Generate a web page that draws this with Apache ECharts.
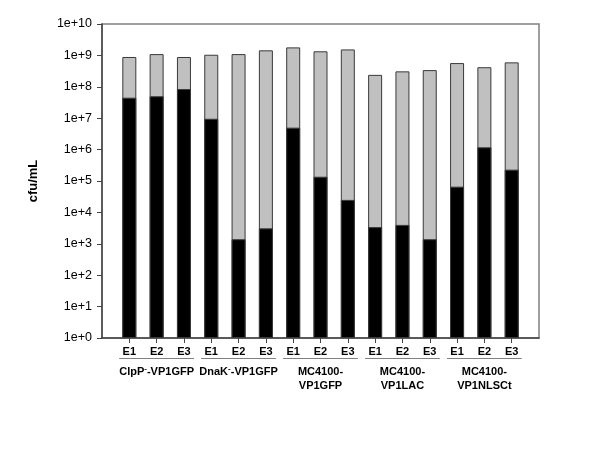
<!DOCTYPE html>
<html>
<head>
<meta charset="utf-8">
<script src="https://cdn.jsdelivr.net/npm/echarts@6/dist/echarts.min.js"></script>
<style>html,body{margin:0;padding:0;background:#fff}#c{width:600px;height:450px}</style>
</head>
<body>
<div id="c"></div>
<script>
// ---- data ----
const groups = ['{a|ClpP}{s|-}{a|-VP1GFP}', '{a|DnaK}{s|-}{a|-VP1GFP}', 'MC4100-\nVP1GFP', 'MC4100-\nVP1LAC', 'MC4100-\nVP1NLSCt'];
const experiments = ['E1', 'E2', 'E3'];
const totalCfu = [8.9e8, 1.1e9, 8.9e8, 1.05e9, 1.1e9, 1.45e9, 1.8e9, 1.35e9, 1.55e9, 2.4e8, 3.1e8, 3.4e8, 5.7e8, 4.2e8, 6.0e8];
const blackCfu = [4.5e7, 5.0e7, 8.5e7, 9.6e6, 1.4e3, 3.1e3, 5.0e6, 1.37e5, 2.5e4, 3.4e3, 4.0e3, 1.4e3, 6.6e4, 1.18e6, 2.3e5];
const yTickExponents = [0, 1, 2, 3, 4, 5, 6, 7, 8, 9, 10];

// ---- derived ----
const barLabels = [];
const groupLabels = [];
groups.forEach(function (g) {
  experiments.forEach(function (e, j) {
    barLabels.push(e);
    groupLabels.push(j === 1 ? g : '');
  });
});
const cats = [''].concat(barLabels, ['']);
const groupCats = [''].concat(groupLabels, ['']);
const pad = function (arr) { return [null].concat(arr, [null]); };
const groupSpans = groups.map(function (g, i) { return [1 + 3 * i, 3 + 3 * i]; });

const chart = echarts.init(document.getElementById('c'), null, { renderer: 'canvas' });
const font = 'Liberation Sans, Arial, Helvetica, sans-serif';
chart.setOption({
  animation: false,
  backgroundColor: '#ffffff',
  grid: { left: 102, right: 61, top: 24, bottom: 112, show: true, borderColor: '#808080', borderWidth: 1.5, containLabel: false },
  xAxis: [{
    type: 'category',
    data: cats,
    boundaryGap: false,
    axisLine: { lineStyle: { color: '#444', width: 1.5 } },
    axisTick: { length: 5, lineStyle: { color: '#444' }, interval: function (i) { return i > 0 && i < cats.length - 1; } },
    axisLabel: { interval: 0, margin: 8, fontFamily: font, fontSize: 11, fontWeight: 'bold', color: '#000' },
    splitLine: { show: false }
  }, {
    type: 'category',
    data: groupCats,
    position: 'bottom',
    boundaryGap: false,
    axisLine: { show: false },
    axisTick: { show: false },
    axisLabel: {
      interval: 0, margin: 27, fontFamily: font, fontSize: 11, fontWeight: 'bold', color: '#000', lineHeight: 14,
      rich: {
        a: { fontFamily: font, fontSize: 11, fontWeight: 'bold', color: '#000', lineHeight: 14 },
        s: { fontFamily: font, fontSize: 8, fontWeight: 'bold', color: '#000', lineHeight: 14, padding: [0, 0, 7, 0] }
      }
    },
    splitLine: { show: false }
  }],
  yAxis: {
    type: 'log',
    logBase: 10,
    min: Math.pow(10, yTickExponents[0]),
    max: Math.pow(10, yTickExponents[yTickExponents.length - 1]),
    interval: 1,
    splitNumber: 10,
    name: 'cfu/mL',
    nameLocation: 'middle',
    nameGap: 62,
    nameTextStyle: { fontFamily: font, fontSize: 13, fontWeight: 'bold', color: '#000' },
    axisLine: { show: true, lineStyle: { color: '#444', width: 1.5 } },
    axisTick: { show: true, length: 5, lineStyle: { color: '#444' } },
    axisLabel: {
      fontFamily: font, fontSize: 12.5, color: '#000', margin: 10,
      formatter: function (v) { return '1e+' + Math.round(Math.log10(v)); }
    },
    splitLine: { show: false }
  },
  series: [{
    type: 'bar',
    name: 'total',
    data: pad(totalCfu),
    barWidth: 14,
    barGap: '-100%',
    itemStyle: { color: '#c0c0c0', borderColor: '#3a3a3a', borderWidth: 1 }
  }, {
    type: 'bar',
    name: 'black',
    data: pad(blackCfu),
    barWidth: 14,
    barGap: '-100%',
    itemStyle: { color: '#000000', borderColor: '#3a3a3a', borderWidth: 1 }
  }, {
    type: 'custom',
    name: 'groupLines',
    silent: true,
    clip: false,
    data: groupSpans,
    renderItem: function (params, api) {
      const s = api.value(0), e = api.value(1);
      const p1 = api.coord([s, 1]);
      const p2 = api.coord([e, 1]);
      const band = (p2[0] - p1[0]) / (e - s);
      const y = p1[1] + 20.5;
      return {
        type: 'line',
        shape: { x1: p1[0] - 0.37 * band, y1: y, x2: p2[0] + 0.37 * band, y2: y },
        style: { stroke: '#808080', lineWidth: 1 }
      };
    }
  }]
});
</script>
</body>
</html>
